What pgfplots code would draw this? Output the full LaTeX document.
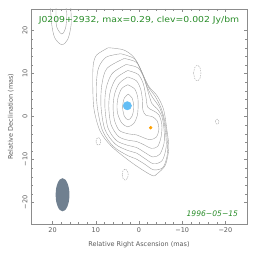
\documentclass[border=0pt]{standalone}
\usepackage{pgfplots}
\pgfplotsset{compat=1.18}
\usepackage{fontspec}
\setmainfont{DejaVu Sans}
\definecolor{ctr}{RGB}{160,160,160}
\definecolor{frm}{RGB}{140,140,140}
\definecolor{lbl}{RGB}{90,90,90}
\definecolor{ttl}{RGB}{40,140,40}
\definecolor{core}{RGB}{100,190,245}
\definecolor{comp}{RGB}{255,160,0}
\definecolor{beam}{RGB}{112,128,144}
\begin{document}
\begin{tikzpicture}
\useasboundingbox (-31pt,-38pt) rectangle (233pt,224pt);
\begin{axis}[
  scale only axis, width=216pt, height=215pt,
  xmin=-25, xmax=25, ymin=-25, ymax=25, x dir=reverse,
  axis line style={frm, line width=0.5pt},
  tick style={frm, line width=0.4pt},
  major tick length=3pt, minor tick length=1.6pt,
  tick align=inside, xtick pos=both, ytick pos=both,
  xtick={20,10,0,-10,-20}, xticklabels={20,10,0,−10,−20},
  ytick={-20,-10,0,10,20}, yticklabels={−20,−10,0,10,20},
  minor x tick num=4, minor y tick num=4,
  ticklabel style={font=\fontsize{6.5}{7}\selectfont, text=lbl},
  yticklabel style={rotate=90, anchor=south},
  xlabel={Relative Right Ascension (mas)},
  ylabel={Relative Declination (mas)},
  label style={font=\fontsize{6.5}{7}\selectfont, text=lbl},
  xlabel style={yshift=-2pt},
  ylabel style={yshift=2pt},
  clip=true,
]
% positive contours
\addplot[ctr, line width=0.4pt, smooth] coordinates {(2.5,5.2) (1.6,4.3) (1.2,2.2) (1.6,0.1) (2.5,-0.8) (3.4,0.1) (3.8,2.2) (3.4,4.3) (2.5,5.2)};
\addplot[ctr, line width=0.4pt, smooth] coordinates {(2.6,7.4) (1.0,6.4) (0.3,4.5) (0.2,2.4) (0.4,0.2) (1.2,-1.6) (2.6,-2.4) (4.0,-1.5) (4.9,0.5) (5.1,2.4) (4.8,4.6) (4.0,6.5) (2.6,7.4)};
\addplot[ctr, line width=0.4pt, smooth] coordinates {(2.6,9.2) (0.6,8.3) (-0.4,6.3) (-0.8,3.8) (-0.9,1.5) (-1.6,0.3) (-3.0,0.0) (-4.2,-1.0) (-4.6,-3.0) (-4.0,-4.8) (-2.6,-5.4) (-1.2,-5.0) (0.5,-4.3) (2.6,-4.0) (4.6,-3.2) (5.7,-0.8) (6.0,2.4) (5.6,5.4) (4.5,7.8) (2.6,9.2)};
\addplot[ctr, line width=0.4pt, smooth] coordinates {(2.6,10.7) (0.2,9.8) (-1.0,7.6) (-1.6,4.6) (-2.0,2.2) (-3.2,1.4) (-4.6,0.4) (-5.3,-2.0) (-5.1,-4.8) (-4.3,-7.0) (-2.8,-7.4) (-1.2,-6.6) (0.6,-5.8) (2.6,-5.5) (4.8,-4.6) (6.5,-1.8) (7.0,2.4) (6.6,6.0) (5.2,9.0) (2.6,10.7)};
\addplot[ctr, line width=0.4pt, smooth] coordinates {(3.0,12.1) (0.2,11.3) (-1.2,8.8) (-2.2,5.4) (-3.0,3.0) (-4.2,1.8) (-5.3,0.0) (-5.8,-3.0) (-5.8,-6.2) (-4.8,-8.8) (-3.2,-9.4) (-1.4,-8.4) (0.6,-7.2) (2.6,-6.7) (5.2,-5.6) (7.2,-2.6) (7.9,2.4) (7.6,6.6) (6.2,10.0) (3.0,12.1)};
\addplot[ctr, line width=0.4pt, smooth] coordinates {(3.4,13.5) (0.6,12.6) (-0.8,10.0) (-2.0,6.6) (-3.3,4.2) (-4.6,2.4) (-5.6,-0.2) (-6.1,-3.4) (-6.3,-7.0) (-5.4,-10.2) (-3.4,-11.0) (-1.4,-9.8) (0.6,-8.5) (2.6,-7.9) (5.5,-6.4) (7.9,-3.0) (8.8,2.4) (8.6,7.4) (7.4,11.2) (3.4,13.5)};
\addplot[ctr, line width=0.4pt, smooth] coordinates {(4.2,14.6) (1.0,13.4) (-0.5,10.6) (-2.1,7.0) (-3.8,4.6) (-5.1,2.0) (-6.0,-1.2) (-6.5,-5.0) (-6.6,-8.6) (-5.6,-11.8) (-3.4,-12.4) (-1.2,-11.0) (0.8,-9.8) (2.6,-9.1) (5.9,-7.0) (8.4,-3.4) (9.6,1.8) (9.9,6.8) (9.4,11.2) (7.6,13.8) (4.2,14.6)};
\addplot[ctr, line width=0.4pt, smooth] coordinates {(7.1,16.0) (3.6,15.5) (1.3,13.9) (-0.3,11.1) (-2.2,7.1) (-4.2,4.8) (-5.7,1.6) (-6.5,-3.4) (-6.9,-7.4) (-6.1,-11.3) (-4.2,-13.3) (-3.0,-13.7) (1.3,-11.0) (6.3,-7.0) (9.0,-3.4) (10.4,1.6) (10.7,7.1) (10.6,11.9) (9.8,14.3) (7.1,16.0)};
% top-left blob
\addplot[ctr, line width=0.4pt, smooth] coordinates {(20.6,27) (20.5,25.4) (20.2,21.4) (19.5,18.3) (17.9,16.7) (16.5,17.9) (15.7,21.4) (15.8,25.4) (15.9,27)};
\addplot[ctr, line width=0.4pt, smooth] coordinates {(19.2,27) (19.2,25) (19.1,21.0) (17.9,19.2) (17.0,20.5) (16.7,23.8) (16.9,25.4) (17.0,27)};
% negative contours
\addplot[ctr, line width=0.4pt, smooth, dash pattern=on 1.5pt off 1pt] coordinates {(-12.65,10.1) (-12.9,11.37) (-13.5,11.9) (-14.1,11.37) (-14.35,10.1) (-14.1,8.83) (-13.5,8.3) (-12.9,8.83) (-12.65,10.1)};
\addplot[ctr, line width=0.4pt, smooth, dash pattern=on 1.5pt off 1pt] coordinates {(-17.7,-1.2) (-17.82,-0.78) (-18.1,-0.6) (-18.38,-0.78) (-18.5,-1.2) (-18.38,-1.62) (-18.1,-1.8) (-17.82,-1.62) (-17.7,-1.2)};
\addplot[ctr, line width=0.4pt, smooth, dash pattern=on 1.5pt off 1pt] coordinates {(9.95,-5.8) (9.79,-5.16) (9.4,-4.9) (9.01,-5.16) (8.85,-5.8) (9.01,-6.44) (9.4,-6.7) (9.79,-6.44) (9.95,-5.8)};
\addplot[ctr, line width=0.4pt, smooth, dash pattern=on 1.5pt off 1pt] coordinates {(3.9,-13.5) (3.69,-12.58) (3.2,-12.2) (2.71,-12.58) (2.5,-13.5) (2.71,-14.42) (3.2,-14.8) (3.69,-14.42) (3.9,-13.5)};
% beam
\addplot[draw=none, fill=beam, smooth] coordinates {(19.3,-18.2) (19.18,-16.73) (18.83,-15.48) (18.31,-14.64) (17.7,-14.35) (17.09,-14.64) (16.57,-15.48) (16.22,-16.73) (16.1,-18.2) (16.22,-19.67) (16.57,-20.92) (17.09,-21.76) (17.7,-22.05) (18.31,-21.76) (18.83,-20.92) (19.18,-19.67) (19.3,-18.2)} -- cycle;
% components
\addplot[only marks, mark=*, mark size=4.2pt, color=core, mark options={draw=none, fill=core}] coordinates {(2.7,2.5)};
\addplot[only marks, mark=*, mark size=1.5pt, color=comp, mark options={draw=none, fill=comp}] coordinates {(-2.7,-2.6)};
\node[anchor=base, text=ttl, font=\fontsize{8.2}{9}\selectfont] at (rel axis cs:0.5,0.936) {\scalebox{1.13}[1]{J0209+2932, max=0.29, clev=0.002 Jy/bm}};
\node[anchor=base east, text=ttl, font=\fontsize{7.6}{9}\selectfont\itshape] at (rel axis cs:0.975,0.033) {1996−05−15};
\end{axis}
\end{tikzpicture}
\end{document}
